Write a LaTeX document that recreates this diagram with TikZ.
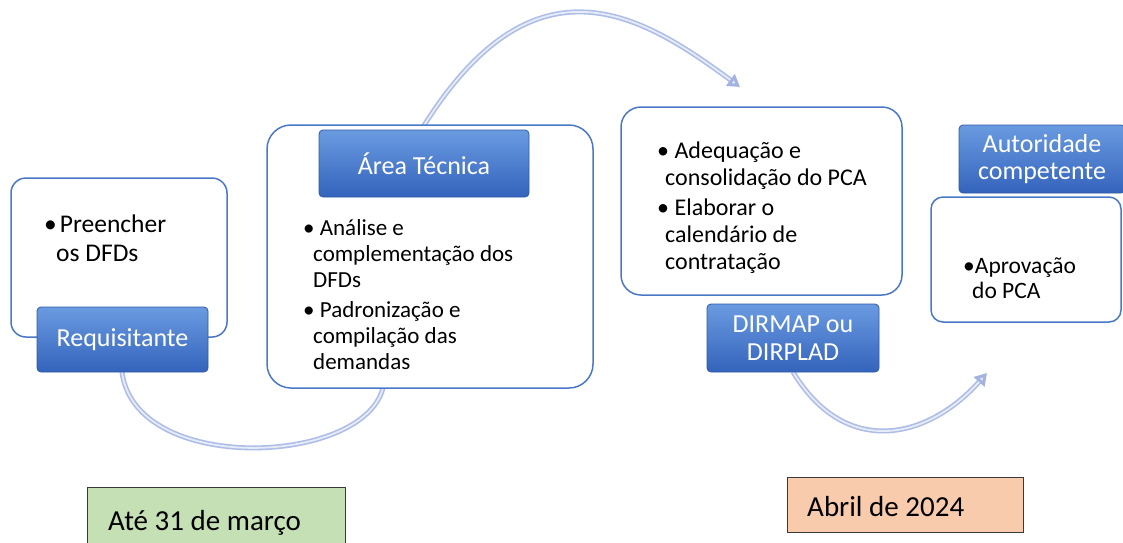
\documentclass[tikz,border=0pt]{standalone}
\usepackage{fontspec}
\setmainfont{Carlito}
\usetikzlibrary{arrows.meta}
\definecolor{boxline}{HTML}{4A78C8}
\definecolor{lbltop}{HTML}{6A9BE0}
\definecolor{lblbot}{HTML}{3463BC}
\definecolor{lbledge}{HTML}{2F5AA8}
\definecolor{tubecol}{HTML}{AEBDE8}
\definecolor{tubehi}{HTML}{E6EBF8}
\definecolor{tubetip}{HTML}{A3B3E0}
\definecolor{datagreen}{HTML}{C5E0B4}
\definecolor{datapeach}{HTML}{F8CBAD}
\definecolor{dateline}{HTML}{3A3A3A}
\begin{document}
\begin{tikzpicture}[x=1pt,y=-1pt,
  whitebox/.style={draw=boxline, line width=1.5pt, fill=white, rounded corners=#1, inner sep=0pt},
  lblbox/.style={draw=lbledge, line width=0.8pt, top color=lbltop, bottom color=lblbot,
     rounded corners=4pt, text=white, align=center, inner sep=0pt,
     font=\fontsize{26}{27.5}\selectfont},
  datebox/.style={draw=dateline, line width=0.9pt, inner sep=0pt},
  datetext/.style={anchor=base west, inner sep=0pt, font=\fontsize{29}{32}\selectfont},
  bultext/.style={anchor=base west, inner sep=0pt},
  tubeout/.style={draw=tubecol, line width=5pt},
  tubein/.style={draw=tubehi, line width=1.8pt},
  tubetipstyle/.style={-{Triangle[length=12pt,width=14pt,color=tubetip,fill=tubehi]}}
]
\fill[white] (0,0) rectangle (1123,542);
\useasboundingbox (0,0) rectangle (1123,542);

% arrow coordinates
\coordinate (a1s) at (122,372);
\coordinate (a1e) at (383,388);
\coordinate (a2s) at (423,127);
\coordinate (a2e) at (740,87);
\coordinate (a3s) at (793,372);
\coordinate (a3e) at (987,373);

% curved arrows (behind boxes)
\draw[tubeout] (a1s) .. controls (135,475) and (363,466) .. (a1e);
\draw[tubein] (a1s) .. controls (135,475) and (363,466) .. (a1e);
\draw[tubeout, tubetipstyle] (a2s) .. controls (535,-52) and (642,15) .. (a2e);
\draw[tubein, shorten >=12pt] (a2s) .. controls (535,-52) and (642,15) .. (a2e);
\draw[tubeout, tubetipstyle] (a3s) .. controls (845,458) and (927,440) .. (a3e);
\draw[tubein, shorten >=12pt] (a3s) .. controls (845,458) and (927,440) .. (a3e);

% white content boxes
\node[whitebox=15pt, minimum width=216pt, minimum height=159pt] (b1) at (119,257.5) {};
\node[whitebox=24pt, minimum width=326pt, minimum height=263pt] (b2) at (430,256.5) {};
\node[whitebox=20pt, minimum width=281pt, minimum height=188pt] (b3) at (761.5,201) {};
\node[whitebox=12pt, minimum width=190pt, minimum height=125pt] (b4) at (1026,259.5) {};

% blue labels
\node[lblbox, minimum width=171pt, minimum height=65pt] (l1) at (122.5,339.5) {Requisitante};
\node[lblbox, minimum width=210pt, minimum height=67pt] (l2) at (424,163.5) {Área Técnica};
\node[lblbox, minimum width=172pt, minimum height=68pt] (l3) at (793,338) {DIRMAP ou\\DIRPLAD};
\node[lblbox, minimum width=166pt, minimum height=68pt] (l4) at (1042,159) {Autoridade\\competente};

% bullet texts
\node[bultext] (t1) at (56,232) {\parbox[t]{160pt}{\fontsize{25.5}{29.5}\selectfont\raggedright
\noindent\hspace*{-12pt}•\hspace{3pt}Preencher\\os DFDs\par}};

\node[bultext] (t2) at (313,235) {\parbox[t]{270pt}{\fontsize{23}{26}\selectfont\raggedright
\noindent\hspace*{-10pt}• Análise e\\complementação dos\\DFDs\par
\vspace{4pt}
\noindent\hspace*{-10pt}• Padronização e\\compilação das\\demandas\par}};

\node[bultext] (t3) at (665,158) {\parbox[t]{230pt}{\fontsize{24}{27}\selectfont\raggedright
\noindent\hspace*{-8pt}• Adequação e\\consolidação do PCA\par
\vspace{3pt}
\noindent\hspace*{-8pt}• Elaborar o\\calendário de\\contratação\par}};

\node[bultext] (t4) at (972,273) {\parbox[t]{140pt}{\fontsize{23.5}{25}\selectfont\raggedright
\noindent\hspace*{-9pt}•Aprovação\\do PCA\par}};

% date boxes
\node[datebox, fill=datagreen, minimum width=258pt, minimum height=62pt] (d1) at (216,518) {};
\node[datetext] (d1t) at (108,530) {Até 31 de março};
\node[datebox, fill=datapeach, minimum width=236pt, minimum height=55pt] (d2) at (905,504.5) {};
\node[datetext] (d2t) at (807,516) {Abril de 2024};
\end{tikzpicture}
\end{document}
